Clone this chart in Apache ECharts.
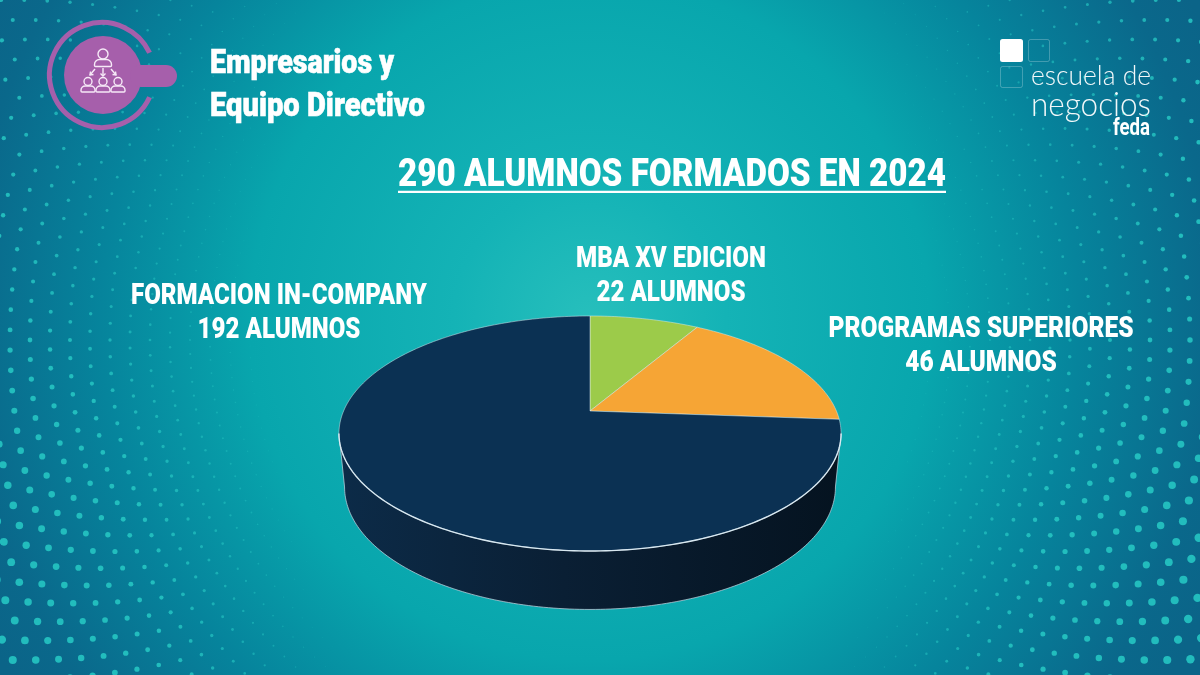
<!DOCTYPE html>
<html lang="es">
<head>
<meta charset="utf-8">
<title>290 alumnos formados en 2024</title>
<style>
  html, body { margin: 0; padding: 0; background: #07809a; }
  #chart { width: 1200px; height: 675px; }
</style>
<script src="https://cdn.jsdelivr.net/npm/echarts@6/dist/echarts.min.js"></script>
</head>
<body>
<div id="chart"></div>
<script>
// Alumnos por programa, en el orden de las porciones (sentido horario desde arriba)
const categorias = ['MBA XV EDICION', 'PROGRAMAS SUPERIORES', 'FORMACION IN-COMPANY'];
const alumnos = [22, 46, 192];
const sufijo = 'ALUMNOS';
const tituloTexto = '290 ALUMNOS FORMADOS EN 2024';
const cabecera = ['Empresarios y', 'Equipo Directivo'];
const marca = ['escuela de', 'negocios', 'feda'];

const coloresPorcion = ['#9ccb4a', '#f6a535', '#0b3153'];
const centroEtiqueta = [[671, 0], [981, 0], [279, 0]];
const yEtiqueta = [259, 329, 296.5];
const anchoEtiqueta = [190, 305, 296];

const FUENTE = 'Roboto, "Liberation Sans", sans-serif';
const W = 1200, H = 675;

// Proyección en perspectiva de un disco: apex en (cx, y0), k acorta el lado lejano
const K = 0.1915;
const CARA = { cx: 590, y0: 411, a: 246.4, b: 113.2 };
const BASE = { cx: 590, y0: 463.5, a: 240.9, b: 118 };
function proyecta(capa, theta, rho) {
  const u = rho * Math.sin(theta), v = rho * Math.cos(theta), w = 1 + K * v;
  return [capa.cx + capa.a * u / w, capa.y0 - capa.b * v / w];
}
function borde(capa, desde, hasta) {
  const n = Math.max(2, Math.ceil(Math.abs(hasta - desde) / (Math.PI / 180)));
  const pts = [];
  for (let i = 0; i <= n; i++) pts.push(proyecta(capa, desde + (hasta - desde) * i / n, 1));
  return pts;
}

const medidor = document.createElement('canvas').getContext('2d');
function ajusteX(texto, fuente, ancho) {
  medidor.font = fuente;
  return ancho / medidor.measureText(texto).width;
}

function texto(t, x, y, size, ancho, extra) {
  const fuente = (extra && extra.peso || 'bold') + ' ' + size + 'px ' + (extra && extra.familia || FUENTE);
  return {
    type: 'text', x: x, y: y, silent: true,
    scaleX: ajusteX(t, fuente, ancho),
    style: Object.assign({
      text: t, font: fuente, fill: '#ffffff',
      align: (extra && extra.align) || 'left', verticalAlign: 'middle'
    }, extra && extra.style)
  };
}

// Trama de puntos del fondo: anillos alternados alrededor del centro
function puntosFondo() {
  const out = [];
  const cx = 590, cy = 340, porAnillo = 180;
  for (let j = 5; j < 44; j++) {
    const r = j * 20;
    for (let i = 0; i < porAnillo; i++) {
      const ang = (i + (j % 2) * 0.5) * 2 * Math.PI / porAnillo;
      const x = cx + r * Math.cos(ang), y = cy + r * Math.sin(ang);
      if (x < -5 || x > W + 5 || y < -5 || y > H + 5) continue;
      const d = Math.hypot(x - cx, (y - cy) * 0.55);
      const f = y < 300 ? 0.5 + 0.1 * y / 300 : (y < 500 ? 0.6 + 0.4 * (y - 300) / 200 : 1);
      const rad = Math.min(4.2, (d - 280) * 0.0125 * f);
      if (rad < 0.3) continue;
      out.push({
        type: 'circle', silent: true, shape: { cx: x, cy: y, r: rad },
        style: { fill: '#25c3c1', opacity: Math.min(0.92, 0.12 + rad * 0.36) }
      });
    }
  }
  return out;
}

// Logotipo circular con el icono de personas
function icono() {
  const lila = '#a65fab', linea = { stroke: '#f6e9f7', lineWidth: 1.4, fill: 'none' };
  const persona = (x, y, r, w, h) => [
    { type: 'circle', shape: { cx: x, cy: y, r: r }, style: linea },
    { type: 'rect', shape: { x: x - w / 2, y: y + r + 0.5, width: w, height: h, r: [h * 0.7, h * 0.7, 1, 1] }, style: linea }
  ];
  return [
    { type: 'arc', shape: { cx: 102, cy: 75, r: 52.5, startAngle: 25 * Math.PI / 180, endAngle: -25 * Math.PI / 180, clockwise: true },
      style: { stroke: lila, lineWidth: 5, fill: 'none' } },
    { type: 'circle', shape: { cx: 103, cy: 75, r: 39 }, style: { fill: lila } },
    { type: 'rect', shape: { x: 130, y: 65, width: 47, height: 22, r: 11 }, style: { fill: lila } },
    ...persona(103, 54, 5, 17, 7),
    ...persona(88, 81.5, 4, 14, 6),
    ...persona(103, 81.5, 4, 14, 6),
    ...persona(118, 81.5, 4, 14, 6),
    { type: 'polyline', shape: { points: [[103, 68], [103, 76]] }, style: linea },
    { type: 'polyline', shape: { points: [[100.5, 73.5], [103, 76], [105.5, 73.5]] }, style: linea },
    { type: 'polyline', shape: { points: [[95, 69], [90, 75]] }, style: linea },
    { type: 'polyline', shape: { points: [[90.5, 71.5], [90, 75], [93.5, 74.5]] }, style: linea },
    { type: 'polyline', shape: { points: [[111, 69], [116, 75]] }, style: linea },
    { type: 'polyline', shape: { points: [[115.5, 71.5], [116, 75], [112.5, 74.5]] }, style: linea }
  ].map(e => Object.assign(e, { silent: true }));
}

function logoMarca() {
  const tenue = { stroke: 'rgba(255,255,255,0.24)', lineWidth: 1, fill: 'none' };
  return [
    { type: 'rect', silent: true, shape: { x: 1000, y: 39, width: 23, height: 23, r: 2.5 }, style: { fill: '#ffffff' } },
    { type: 'rect', silent: true, shape: { x: 1028.5, y: 39.5, width: 21, height: 22, r: 2 }, style: tenue },
    { type: 'rect', silent: true, shape: { x: 1000.5, y: 66.5, width: 22, height: 21, r: 2 }, style: tenue },
    texto(marca[0], 1031, 76.5, 27, 120, { peso: '300', familia: 'Lato, "Open Sans", sans-serif', style: { opacity: 0.95 } }),
    texto(marca[1], 1031, 105, 33, 120, { peso: '300', familia: 'Lato, "Open Sans", sans-serif', style: { opacity: 0.95 } }),
    texto(marca[2], 1113, 129, 24, 37)
  ];
}

function dibujaPorcion(params, api) {
  const i = params.dataIndex;
  const total = alumnos.reduce((s, v) => s + v, 0);
  const previo = alumnos.slice(0, i).reduce((s, v) => s + v, 0);
  const desde = previo / total * 2 * Math.PI;
  const hasta = desde + api.value(0) / total * 2 * Math.PI;
  const children = [];

  // Pared lateral: sólo la parte del arco que queda en el lado cercano
  const limR = Math.acos(-K), limL = 2 * Math.PI - limR;
  const a0 = Math.max(desde, limR), a1 = Math.min(hasta, limL);
  const cerca = a1 > a0;
  if (cerca) {
    const arriba = borde(CARA, a0, a1);
    const abajo = borde(BASE, a1, a0);
    children.push({
      type: 'polygon', shape: { points: arriba.concat(abajo) },
      style: {
        fill: new echarts.graphic.LinearGradient(338, 0, 840, 0, [
          { offset: 0, color: '#0c2b48' }, { offset: 0.45, color: '#0a1f34' }, { offset: 1, color: '#051320' }
        ], true)
      }
    });
    children.push({
      type: 'polyline', shape: { points: [arriba[0]].concat(borde(BASE, a0, a1), [arriba[arriba.length - 1]]) },
      style: { stroke: 'rgba(190,208,220,0.75)', lineWidth: 1, fill: 'none' }
    });
  }

  // Cara superior
  children.push({
    type: 'polygon',
    shape: { points: [proyecta(CARA, 0, 0)].concat(borde(CARA, desde, hasta)) },
    style: { fill: coloresPorcion[i], stroke: 'rgba(226,238,240,0.6)', lineWidth: 0.8, lineJoin: 'round' }
  });
  if (cerca) {
    children.push({
      type: 'polyline', shape: { points: borde(CARA, a0, a1) },
      style: { stroke: 'rgba(222,236,244,0.95)', lineWidth: 1.4, fill: 'none' }
    });
  }

  // Rótulo con nombre y cantidad
  const lineas = [categorias[i], api.value(0) + ' ' + sufijo];
  const cx = centroEtiqueta[i][0], y = yEtiqueta[i];
  const fuente = '900 30px ' + FUENTE;
  const esc = ajusteX(lineas[0], fuente, anchoEtiqueta[i]);
  lineas.forEach((t, n) => {
    children.push({
      type: 'text', x: cx, y: y + n * 34, scaleX: esc,
      style: { text: t, font: fuente, fill: '#ffffff', align: 'center', verticalAlign: 'middle' }
    });
  });
  return { type: 'group', children: children };
}

const chart = echarts.init(document.getElementById('chart'), null, { renderer: 'canvas' });
chart.setOption({
  animation: false,
  graphic: [
    {
      type: 'group', z: -10, silent: true, children: [
        { type: 'rect', silent: true, shape: { x: 0, y: 0, width: W, height: H },
          style: { fill: new echarts.graphic.RadialGradient(590, 320, 680, [
            { offset: 0, color: '#27bfbc' }, { offset: 0.2, color: '#14b3b6' }, { offset: 0.5, color: '#08a6ad' },
            { offset: 0.72, color: '#06849c' }, { offset: 0.92, color: '#0a688b' }, { offset: 1, color: '#0b6488' }
          ], true) } },
        ...puntosFondo()
      ]
    },
    { type: 'group', z: -5, silent: true, children: icono().concat(logoMarca()) },
    {
      type: 'group', z: -4, silent: true, children: [
        texto(cabecera[0], 210, 64.5, 33, 184, { peso: '900', style: { stroke: '#ffffff', lineWidth: 0.6 } }),
        texto(cabecera[1], 210, 107.5, 33, 215, { peso: '900', style: { stroke: '#ffffff', lineWidth: 0.6 } }),
        texto(tituloTexto, 398, 176, 39, 548, { peso: '900' }),
        { type: 'rect', silent: true, shape: { x: 398, y: 190.8, width: 548, height: 2.2 }, style: { fill: '#ffffff' } }
      ]
    }
  ],
  series: [{
    type: 'custom',
    coordinateSystem: 'none',
    silent: true,
    clip: false,
    renderItem: dibujaPorcion,
    encode: { value: 0, itemName: 1 },
    data: alumnos.map((v, i) => [v, categorias[i]])
  }]
});
</script>
</body>
</html>
